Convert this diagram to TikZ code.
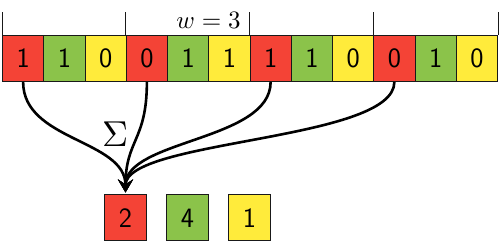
\documentclass[tikz,border=0pt]{standalone}
\usepackage{graphicx}
\usetikzlibrary{arrows.meta}
\definecolor{cred}{HTML}{F44336}
\definecolor{cgreen}{HTML}{8BC34A}
\definecolor{cyellow}{HTML}{FFEB3B}
\begin{document}
\begin{tikzpicture}[x=1pt,y=-1pt,
  cell/.style={draw=black!90, line width=1pt, minimum width=41.25pt, minimum height=46pt, inner sep=0pt, font=\fontsize{28}{32}\selectfont\sffamily},
  res/.style={cell, minimum width=42pt},
  tick/.style={draw=black!90, line width=0.9pt},
  conn/.style={line width=2.6pt, -{Stealth[length=13pt, width=15pt, inset=5pt]}, shorten >=2pt}]
\useasboundingbox (0,0) rectangle (499,243);
\foreach \d/\c [count=\i from 0] in {1/cred,1/cgreen,0/cyellow,0/cred,1/cgreen,1/cyellow,1/cred,1/cgreen,0/cyellow,0/cred,1/cgreen,0/cyellow}
  \node[cell, fill=\c, anchor=north west] (c\i) at ({2+41.25*\i},35) {\d};
\foreach \i in {0,3,6,9}
  \draw[tick] (c\i.north west) -- +(0,-23);
\draw[tick] (c11.north east) -- +(0,-23);
\node[inner sep=0pt] (w) at (208.5,20) {\scalebox{2.5}{$w=3$}};
\node[res, fill=cred] (r) at (125.5,218) {2};
\node[res, fill=cgreen] (g) at (187.5,218) {4};
\node[res, fill=cyellow] (y) at (249.5,218) {1};
\node[inner sep=0pt] (s) at (115,134) {\scalebox{3.6}{$\Sigma$}};
\foreach \i in {0,3,6,9}
  \draw[conn] (c\i.south) .. controls +(0,59) and +(0,-55) .. (r.north);
\end{tikzpicture}
\end{document}
